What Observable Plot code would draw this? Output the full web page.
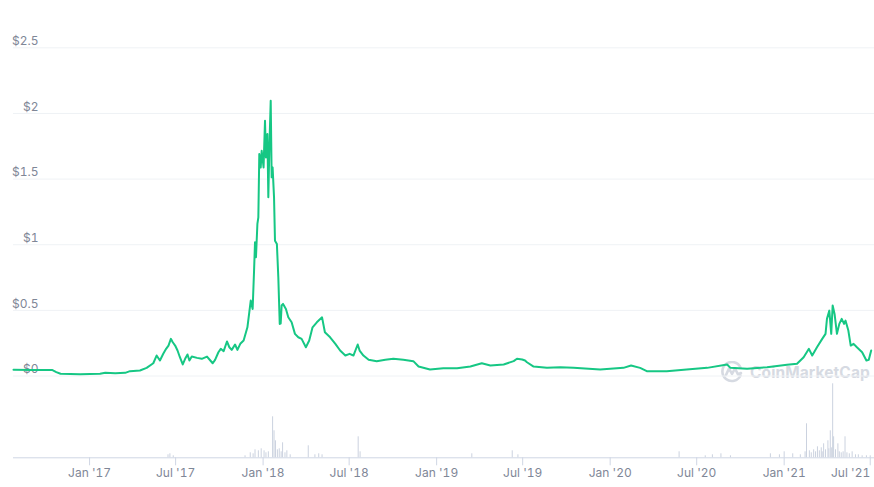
<!DOCTYPE html>
<html>
<head>
<meta charset="utf-8">
<script src="https://cdn.jsdelivr.net/npm/d3@7"></script>
<script src="https://cdn.jsdelivr.net/npm/@observablehq/plot@0.6"></script>
<style>
  html, body { margin: 0; padding: 0; background: #fff; }
  #wrap { position: relative; width: 874px; height: 487px; overflow: hidden; font-family: Inter, sans-serif; }
  #price, #volume { position: absolute; left: 0; }
  #price { top: 0; }
  #volume { top: 375px; }
  #mark { position: absolute; left: 720px; top: 361px; display: flex; align-items: center; gap: 6px;
          color: #d6dae2; font-family: Inter, sans-serif; font-weight: 700; font-size: 15.5px; letter-spacing: 0.1px; }
</style>
</head>
<body>
<div id="wrap">
  <div id="mark">
    <svg width="24" height="22" viewBox="0 0 24 22">
      <path d="M20.5 14.5 A9.5 9.5 0 1 1 20.5 6.5" fill="none" stroke="#d6dae2" stroke-width="2.6" stroke-linecap="round"/>
      <path d="M6 14 L9 7.5 L12 13 L15 7.5 L18 13.5 L21 12" fill="none" stroke="#d6dae2" stroke-width="2.6" stroke-linecap="round" stroke-linejoin="round"/>
    </svg>
    <span>CoinMarketCap</span>
  </div>
  <div id="price"></div>
  <div id="volume"></div>
</div>
<script>
// ---- price series (USD) ----
const priceDates = [
  "2016-07-25","2016-09-01","2016-10-15","2016-10-23","2016-11-01","2016-12-12","2017-01-23","2017-02-03",
  "2017-02-24","2017-03-17","2017-03-27","2017-04-17","2017-05-01","2017-05-15","2017-05-22","2017-05-29",
  "2017-06-05","2017-06-11","2017-06-16","2017-06-21","2017-06-25","2017-06-30","2017-07-05","2017-07-10",
  "2017-07-16","2017-07-21","2017-07-26","2017-07-30","2017-08-04","2017-08-15","2017-08-25","2017-09-05",
  "2017-09-12","2017-09-17","2017-09-22","2017-09-29","2017-10-04","2017-10-10","2017-10-17","2017-10-22",
  "2017-10-27","2017-11-03","2017-11-08","2017-11-14","2017-11-21","2017-11-26","2017-11-29","2017-12-03",
  "2017-12-06","2017-12-10","2017-12-13","2017-12-15","2017-12-17","2017-12-20","2017-12-22","2017-12-24",
  "2017-12-27","2017-12-29","2018-01-02","2018-01-05","2018-01-07","2018-01-10","2018-01-12","2018-01-14",
  "2018-01-17","2018-01-19","2018-01-21","2018-01-24","2018-01-26","2018-01-30","2018-02-02","2018-02-05",
  "2018-02-07","2018-02-09","2018-02-12","2018-02-18","2018-02-23","2018-03-02","2018-03-09","2018-03-16",
  "2018-03-23","2018-04-01","2018-04-08","2018-04-15","2018-04-24","2018-05-05","2018-05-11","2018-05-22",
  "2018-06-02","2018-06-12","2018-06-23","2018-07-02","2018-07-10","2018-07-19","2018-07-23","2018-07-31",
  "2018-08-11","2018-08-28","2018-09-15","2018-10-02","2018-10-23","2018-11-13","2018-11-24","2018-12-18",
  "2019-01-15","2019-02-13","2019-03-13","2019-04-06","2019-04-24","2019-05-22","2019-06-12","2019-06-19",
  "2019-06-30","2019-07-06","2019-07-10","2019-07-24","2019-08-21","2019-09-18","2019-10-16","2019-12-11",
  "2020-01-29","2020-02-14","2020-03-04","2020-03-18","2020-04-29","2020-06-10","2020-07-23","2020-09-03",
  "2020-09-10","2020-10-15","2020-11-26","2021-01-07","2021-01-28","2021-02-11","2021-02-22","2021-03-01",
  "2021-03-11","2021-03-22","2021-03-29","2021-04-01","2021-04-06","2021-04-10","2021-04-13","2021-04-17",
  "2021-04-22","2021-04-27","2021-05-02","2021-05-07","2021-05-10","2021-05-16","2021-05-21","2021-05-27",
  "2021-06-03","2021-06-14","2021-06-23","2021-06-28","2021-07-03"
];
const priceValues = [
  0.047,0.046,0.045,0.030,0.017,0.014,0.017,0.025,
  0.021,0.024,0.037,0.042,0.062,0.097,0.156,0.118,
  0.169,0.207,0.232,0.283,0.257,0.232,0.194,0.143,
  0.088,0.131,0.164,0.118,0.148,0.138,0.131,0.148,
  0.118,0.097,0.123,0.181,0.207,0.189,0.263,0.219,
  0.199,0.240,0.199,0.245,0.270,0.333,0.371,0.486,
  0.575,0.511,0.803,1.018,0.904,1.158,1.209,1.691,
  1.589,1.716,1.589,1.944,1.665,1.843,1.361,1.716,
  2.097,1.513,1.589,1.361,1.031,1.006,0.752,0.397,
  0.400,0.537,0.549,0.511,0.447,0.409,0.321,0.295,
  0.283,0.219,0.270,0.371,0.409,0.447,0.333,0.295,
  0.245,0.194,0.156,0.169,0.156,0.240,0.194,0.156,
  0.123,0.113,0.123,0.131,0.123,0.113,0.072,0.049,
  0.059,0.059,0.072,0.097,0.080,0.088,0.113,0.131,
  0.126,0.118,0.105,0.072,0.062,0.067,0.062,0.049,
  0.062,0.080,0.062,0.037,0.037,0.049,0.062,0.088,
  0.062,0.055,0.067,0.085,0.093,0.143,0.207,0.156,
  0.219,0.283,0.321,0.435,0.498,0.321,0.537,0.473,
  0.321,0.397,0.435,0.397,0.422,0.346,0.232,0.245,
  0.219,0.181,0.118,0.123,0.194
];

// ---- volume series (relative units) ----
const volumeDates = [
  "2017-06-15","2017-06-19","2017-06-26","2017-11-24","2017-12-05","2017-12-11","2017-12-15","2017-12-22",
  "2017-12-28","2018-01-03","2018-01-07","2018-01-12","2018-01-21","2018-01-24","2018-01-27","2018-01-31",
  "2018-02-04","2018-02-08","2018-02-11","2018-02-16","2018-02-20","2018-02-27","2018-04-06","2018-04-20",
  "2018-04-28","2018-05-05","2018-07-20","2018-07-24","2019-03-16","2019-06-09","2019-06-21","2020-05-25",
  "2020-07-19","2020-08-03","2020-08-21","2020-09-10","2020-12-03","2020-12-22","2021-01-01","2021-01-19",
  "2021-02-04","2021-02-14","2021-02-17","2021-02-23","2021-02-27","2021-03-04","2021-03-08","2021-03-12",
  "2021-03-16","2021-03-20","2021-03-22","2021-03-25","2021-03-29","2021-04-03","2021-04-05","2021-04-08",
  "2021-04-11","2021-04-13","2021-04-15","2021-04-19","2021-04-24","2021-04-27","2021-05-01","2021-05-05",
  "2021-05-09","2021-05-13","2021-05-18","2021-05-24","2021-05-31","2021-06-06","2021-06-14","2021-06-23",
  "2021-07-01"
];
const volumeValues = [
  3,4,2,2,5,4,8,7,
  9,7,5,6,41,27,17,8,
  9,6,15,5,7,3,12,3,
  4,3,21,6,4,7,3,6,
  2,3,4,2,4,3,6,4,
  3,6,34,7,5,8,6,11,
  7,10,6,14,8,17,9,27,
  10,74,21,8,14,6,5,6,
  21,5,4,6,3,3,2,2,
  2
];

// ---- axis ticks ----
const priceTicks = [0, 0.5, 1, 1.5, 2, 2.5];
const dateTicks = ["2017-01-01","2017-07-01","2018-01-01","2018-07-01","2019-01-01","2019-07-01",
                   "2020-01-01","2020-07-01","2021-01-01","2021-07-01"];
const xDomain = ["2016-07-25", "2021-07-10"];

const price = priceDates.map((d, i) => ({date: new Date(d), value: priceValues[i]}));
const volume = volumeDates.map((d, i) => ({date: new Date(d), value: volumeValues[i]}));
const months = ["Jan","Feb","Mar","Apr","May","Jun","Jul","Aug","Sep","Oct","Nov","Dec"];
const fmtDate = d => months[d.getUTCMonth()] + " '" + String(d.getUTCFullYear()).slice(2);

const textColor = "#7f8797";
const style = {fontFamily: "Inter, sans-serif", fontSize: "12px", color: textColor, background: "transparent", overflow: "visible"};

const priceChart = Plot.plot({
  width: 874, height: 390,
  marginLeft: 13, marginRight: 0, marginTop: 47.3, marginBottom: 14.5,
  style,
  x: {type: "utc", domain: xDomain.map(d => new Date(d)), axis: null},
  y: {domain: [0, 2.5], label: null},
  marks: [
    Plot.ruleY(priceTicks, {stroke: "#eff2f5", strokeWidth: 1}),
    Plot.axisY({ticks: priceTicks, tickSize: 0, tickPadding: 3, dx: 28, dy: -6.5, label: null,
                fill: textColor, tickFormat: d => "$" + d}),
    Plot.line(price, {x: "date", y: "value", stroke: "#16c784", strokeWidth: 2, curve: "linear"})
  ]
});
document.getElementById("price").appendChild(priceChart);

const tickDateObjs = dateTicks.map(d => new Date(d));
const volumeChart = Plot.plot({
  width: 874, height: 112,
  marginLeft: 13, marginRight: 0, marginTop: 8.3, marginBottom: 29.7,
  style,
  x: {type: "utc", domain: xDomain.map(d => new Date(d)), label: null},
  y: {domain: [0, 74], axis: null},
  marks: [
    Plot.ruleX(volume, {x: "date", y1: 0, y2: "value", stroke: "#cbd2df", strokeWidth: 1}),
    Plot.ruleY([0], {stroke: "#cfd6e4", strokeWidth: 1}),
    Plot.axisX({ticks: tickDateObjs, tickSize: 8, tickPadding: 3, label: null,
                stroke: "#cfd6e4", text: null}),
    Plot.axisX({ticks: tickDateObjs.slice(0, -1), tickSize: 0, tickPadding: 11, label: null,
                fill: textColor, tickFormat: fmtDate}),
    Plot.axisX({ticks: tickDateObjs.slice(-1), tickSize: 0, tickPadding: 11, label: null,
                fill: textColor, tickFormat: fmtDate, textAnchor: "end", dx: 0})
  ]
});
document.getElementById("volume").appendChild(volumeChart);
</script>
</body>
</html>
